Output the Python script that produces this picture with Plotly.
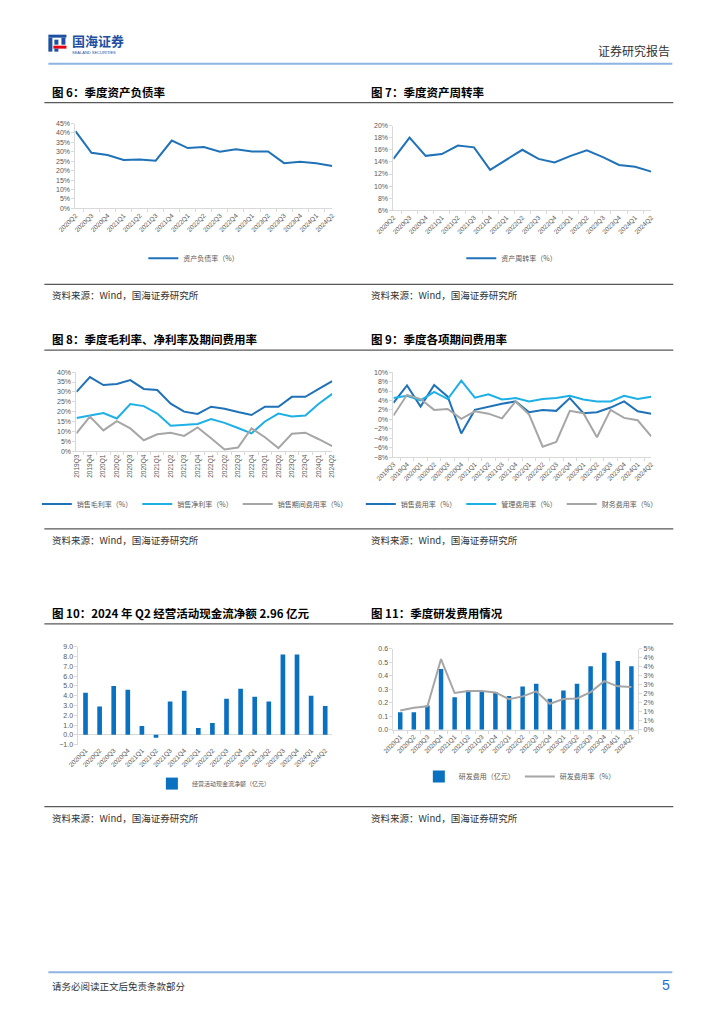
import plotly.graph_objects as go

W, H = 724, 1024
FONT = "Noto Sans CJK SC"
TFONT = "Liberation Sans, Noto Sans CJK SC"
DARK = "#1F72B8"
LIGHT = "#1DB0E6"
GRAY = "#A6A6A6"
BAR = "#0A70C0"
AX = "#D9D9D9"
TK = "#595959"

# observed offset/scale of the photographed page, compensated here
OX, SX = 27.7, 0.9666
OY, SY = 10.3, 0.9946


def px(x):
    return ((x - OX) / SX) / W


def py(y):
    return 1 - ((y - OY) / SY) / H


# ---------------- data ----------------
q17 = ["2020Q2", "2020Q3", "2020Q4", "2021Q1", "2021Q2", "2021Q3", "2021Q4", "2022Q1",
       "2022Q2", "2022Q3", "2022Q4", "2023Q1", "2023Q2", "2023Q3", "2023Q4", "2024Q1", "2024Q2"]
debt_ratio = [41.0, 29.5, 28.3, 25.7, 26.0, 25.3, 36.0, 32.0, 32.5, 30.0, 31.3, 30.2, 30.2,
              24.0, 24.7, 24.0, 22.5]
asset_turnover = [14.5, 18.0, 15.0, 15.3, 16.7, 16.4, 12.7, 14.4, 16.0, 14.5, 13.9, 15.0,
                  15.9, 14.8, 13.5, 13.2, 12.4]

q20 = ["2019Q3", "2019Q4", "2020Q1", "2020Q2", "2020Q3", "2020Q4", "2021Q1", "2021Q2",
       "2021Q3", "2021Q4", "2022Q1", "2022Q2", "2022Q3", "2022Q4", "2023Q1", "2023Q2",
       "2023Q3", "2023Q4", "2024Q1", "2024Q2"]
gross_margin = [30.0, 37.5, 33.5, 34.0, 36.0, 31.5, 31.0, 24.0, 20.0, 18.8, 22.5, 21.5,
                19.8, 18.3, 22.5, 22.5, 27.5, 27.5, 31.5, 35.5]
net_margin = [16.8, 18.0, 19.3, 16.5, 23.8, 22.8, 19.0, 12.8, 13.3, 13.7, 16.2, 14.3,
              11.7, 9.0, 15.0, 19.0, 17.5, 18.0, 24.0, 29.0]
period_exp_ratio = [9.0, 17.5, 10.5, 15.2, 11.5, 5.5, 8.5, 9.3, 7.7, 12.0, 6.5, 0.8,
                    1.8, 11.5, 7.0, 1.5, 8.8, 9.3, 6.0, 2.5]

sales_exp = [3.5, 7.2, 2.7, 7.3, 4.8, -3.0, 2.0, 2.7, 3.3, 3.8, 1.5, 2.0, 1.8, 4.5,
             1.3, 1.5, 2.5, 3.8, 1.7, 1.2]
admin_exp = [4.5, 5.0, 4.0, 5.8, 4.3, 8.2, 4.6, 5.3, 4.2, 4.5, 3.8, 4.3, 4.5, 5.0,
             4.2, 3.8, 3.8, 5.0, 4.3, 4.8]
fin_exp = [0.8, 5.2, 4.3, 2.0, 2.2, 0.1, 1.7, 1.2, 0.2, 3.8, 1.0, -5.8, -4.8, 1.8,
           1.3, -3.8, 2.0, 0.3, -0.2, -3.6]

q18 = ["2020Q1", "2020Q2", "2020Q3", "2020Q4", "2021Q1", "2021Q2", "2021Q3", "2021Q4",
       "2022Q1", "2022Q2", "2022Q3", "2022Q4", "2023Q1", "2023Q2", "2023Q3", "2023Q4",
       "2024Q1", "2024Q2"]
op_cash_flow = [4.3, 2.9, 5.0, 4.6, 0.9, -0.3, 3.4, 4.5, 0.7, 1.2, 3.7, 4.7, 3.9, 3.4,
                8.2, 8.2, 4.0, 2.96]
rd_expense = [0.13, 0.13, 0.18, 0.45, 0.24, 0.29, 0.28, 0.28, 0.25, 0.32, 0.34, 0.23,
              0.29, 0.34, 0.47, 0.57, 0.51, 0.47]
rd_ratio = [1.07, 1.22, 1.30, 3.93, 2.04, 2.15, 2.15, 2.07, 1.70, 1.85, 2.13, 1.44,
            1.70, 1.74, 2.09, 2.70, 2.41, 2.37]
rd_right_ticks = [0, 0.5, 1, 1.5, 2, 2.5, 3, 3.5, 4, 4.5]
rd_right_text = ["0%", "1%", "1%", "2%", "2%", "3%", "3%", "4%", "4%", "5%"]

# ---------------- figure ----------------
fig = go.Figure()


def xaxis(x0, x1, anchor, cats, angle, showline=True):
    return dict(domain=[px(x0), px(x1)], anchor=anchor, type="category",
                tickmode="array", tickvals=cats, ticktext=cats, tickangle=angle,
                tickfont=dict(size=6.5, color=TK, family=TFONT),
                showline=showline, linecolor=AX, linewidth=1,
                ticks="outside" if showline else "", ticklen=3, tickcolor=AX,
                tickson="boundaries", showgrid=False, zeroline=False, fixedrange=True)


def yaxis(y0, y1, anchor, rng, dtick, suffix="%", fmt=None, **kw):
    d = dict(domain=[py(y1), py(y0)], anchor=anchor, range=rng, dtick=dtick,
             tick0=rng[0], ticksuffix=suffix,
             tickfont=dict(size=7, color=TK, family=TFONT),
             showline=True, linecolor=AX, linewidth=1, ticks="outside", ticklen=3,
             tickcolor=AX, showgrid=False, zeroline=False, fixedrange=True)
    if fmt:
        d["tickformat"] = fmt
    d.update(kw)
    return d


LW = 2

# chart 6
fig.add_trace(go.Scatter(x=q17, y=debt_ratio, mode="lines", name="资产负债率（%）",
                         line=dict(color=DARK, width=LW), xaxis="x", yaxis="y",
                         legend="legend"))
# chart 7
fig.add_trace(go.Scatter(x=q17, y=asset_turnover, mode="lines", name="资产周转率（%）",
                         line=dict(color=DARK, width=LW), xaxis="x2", yaxis="y2",
                         legend="legend2"))
# chart 8
for vals, nm, col in [(gross_margin, "销售毛利率（%）", DARK),
                      (net_margin, "销售净利率（%）", LIGHT),
                      (period_exp_ratio, "销售期间费用率（%）", GRAY)]:
    fig.add_trace(go.Scatter(x=q20, y=vals, mode="lines", name=nm,
                             line=dict(color=col, width=LW), xaxis="x3", yaxis="y3",
                             legend="legend3"))
# chart 9
for vals, nm, col in [(sales_exp, "销售费用率（%）", DARK),
                      (admin_exp, "管理费用率（%）", LIGHT),
                      (fin_exp, "财务费用率（%）", GRAY)]:
    fig.add_trace(go.Scatter(x=q20, y=vals, mode="lines", name=nm,
                             line=dict(color=col, width=LW), xaxis="x4", yaxis="y4",
                             legend="legend4"))
# chart 10
fig.add_trace(go.Bar(x=q18, y=op_cash_flow, name="经营活动现金流净额（亿元）",
                     marker=dict(color=BAR, line=dict(width=0)), width=0.33,
                     xaxis="x5", yaxis="y5", legend="legend5"))
# chart 11
fig.add_trace(go.Bar(x=q18, y=rd_expense, name="研发费用（亿元）",
                     marker=dict(color=BAR, line=dict(width=0)), width=0.33,
                     xaxis="x6", yaxis="y6", legend="legend6"))
fig.add_trace(go.Scatter(x=q18, y=rd_ratio, mode="lines", name="研发费用率（%）",
                         line=dict(color=GRAY, width=LW), xaxis="x6", yaxis="y7",
                         legend="legend6"))


def legend(xc, yc, size=7):
    return dict(x=px(xc), y=py(yc), xanchor="center", yanchor="middle",
                orientation="h", font=dict(size=size, color=TK, family=FONT),
                bgcolor="rgba(0,0,0,0)", itemwidth=30, tracegroupgap=0)


fig.update_layout(
    width=W, height=H, margin=dict(l=0, r=0, t=0, b=0),
    paper_bgcolor="white", plot_bgcolor="white",
    xaxis=xaxis(77, 333, "y", q17, -45),
    yaxis=yaxis(122, 207, "x", [0, 45], 5),
    xaxis2=xaxis(394, 651, "y2", q17, -45),
    yaxis2=yaxis(124, 209, "x2", [6, 20], 2),
    xaxis3=xaxis(78, 333, "y3", q20, -90),
    yaxis3=yaxis(371, 450, "x3", [0, 40], 5),
    xaxis4=xaxis(394, 651, "y4", q20, -45),
    yaxis4=yaxis(371, 456, "x4", [-8, 10], 2),
    xaxis5=xaxis(80, 333, "y5", q18, -45, showline=False),
    yaxis5=yaxis(646, 744, "x5", [-1, 9], 1, suffix="", fmt=".1f",
                 zeroline=True, zerolinecolor=AX, zerolinewidth=1),
    xaxis6=xaxis(394, 638, "y6", q18, -45),
    yaxis6=yaxis(648, 729, "x6", [0, 0.6], 0.1, suffix="", fmt=".1f"),
    yaxis7=dict(domain=[py(729), py(648)], anchor="x6", overlaying="y6", side="right",
                range=[0, 4.5], tickmode="array", tickvals=rd_right_ticks,
                ticktext=rd_right_text, tickfont=dict(size=7, color=TK, family=TFONT),
                showline=True, linecolor=AX, ticks="outside", ticklen=3, tickcolor=AX,
                showgrid=False, zeroline=False, fixedrange=True),
    legend=legend(195, 257),
    legend2=legend(512, 257),
    legend3=legend(196, 503),
    legend4=legend(512, 503),
    legend5=legend(215, 783, size=6),
    legend6=legend(520, 776),
    bargap=0.5,
    showlegend=True,
)

# ---------------- page decoration ----------------
shapes = []
annos = []


def rect(x0, x1, y0, y1, col):
    return dict(type="rect", xref="paper", yref="paper", x0=px(x0), x1=px(x1),
                y0=py(y1), y1=py(y0), fillcolor=col, line=dict(width=0))


def hline(x0, x1, y, col, w):
    return dict(type="line", xref="paper", yref="paper", x0=px(x0), x1=px(x1),
                y0=py(y), y1=py(y), line=dict(color=col, width=w))


# header logo
shapes += [
    rect(50, 68, 33, 36, "#1D50A2"),
    rect(50, 54, 36, 50, "#1D50A2"),
    rect(56, 60, 38, 43, "#1D50A2"),
    rect(63, 67, 36, 43, "#1D50A2"),
    rect(55, 68, 44, 47, "#E60012"),
    rect(56, 60, 47, 50, "#1D50A2"),
]
annos.append(dict(text="<b>国海证券</b>", x=px(72), y=py(39), xanchor="left", yanchor="middle",
                  font=dict(size=13, color="#1D50A2", family=FONT)))
annos.append(dict(text="SEALAND SECURITIES", x=px(72), y=py(51), xanchor="left",
                  yanchor="middle", font=dict(size=4, color="#1D50A2", family=TFONT)))
annos.append(dict(text="证券研究报告", x=px(672), y=py(49), xanchor="right", yanchor="middle",
                  font=dict(size=12, color="#333333", family=FONT)))
shapes.append(hline(50, 672, 62, "#8DB4E2", 2))

# titles and underlines
titles = [
    ("图 6：季度资产负债率", 52, 90),
    ("图 7：季度资产周转率", 370, 90),
    ("图 8：季度毛利率、净利率及期间费用率", 52, 338),
    ("图 9：季度各项期间费用率", 370, 338),
    ("图 10：2024 年 Q2 经营活动现金流净额 2.96 亿元", 52, 612),
    ("图 11：季度研发费用情况", 370, 612),
]
for t, x, y in titles:
    annos.append(dict(text=f"<b>{t}</b>", x=px(x), y=py(y), xanchor="left", yanchor="middle",
                      font=dict(size=11.5, color="#000000", family=FONT)))
for y in [101, 349, 623]:
    shapes.append(hline(46, 673, y, "#595959", 1.2))

# sources
for ly, ty in [(283, 294), (528, 539), (806, 817)]:
    shapes.append(hline(46, 673, ly, "#595959", 1.2))
    for x in [52, 370]:
        annos.append(dict(text="资料来源：Wind，国海证券研究所", x=px(x), y=py(ty),
                          xanchor="left", yanchor="middle",
                          font=dict(size=9.5, color="#333333", family=FONT)))

# footer
shapes.append(hline(50, 672, 972, "#8DB4E2", 2))
annos.append(dict(text="请务必阅读正文后免责条款部分", x=px(52), y=py(986), xanchor="left",
                  yanchor="middle", font=dict(size=9.5, color="#333333", family=FONT)))
annos.append(dict(text="5", x=px(672), y=py(985), xanchor="right", yanchor="middle",
                  font=dict(size=14, color="#1F6FD0", family=TFONT)))

for a in annos:
    a.update(xref="paper", yref="paper", showarrow=False)

fig.update_layout(shapes=shapes, annotations=annos)

fig.write_html("out.html")
